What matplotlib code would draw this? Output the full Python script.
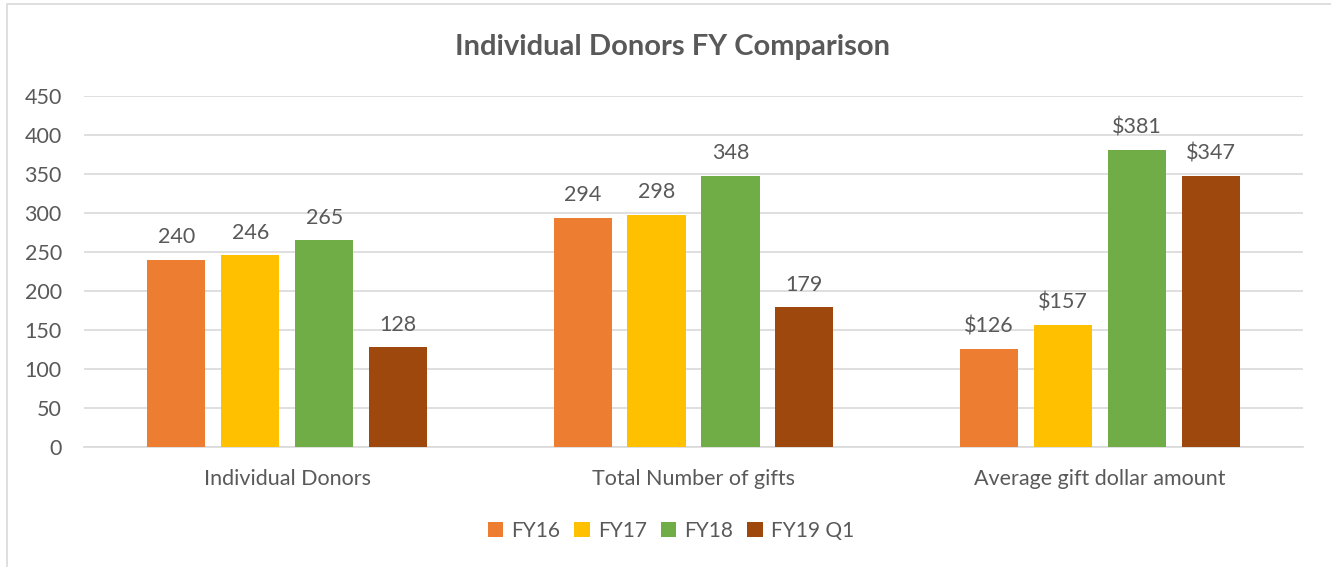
#!/usr/bin/env python3
"""Individual donors FY comparison, grouped bars."""

import matplotlib

matplotlib.use("Agg")
import matplotlib.pyplot as plt
import numpy as np
from matplotlib.patches import Rectangle

CATEGORIES = ["Individual Donors", "Total Number of gifts", "Average gift dollar amount"]
SERIES = ["FY16", "FY17", "FY18", "FY19 Q1"]
FY16 = [240, 294, 126]
FY17 = [246, 298, 157]
FY18 = [265, 348, 381]
FY19_Q1 = [128, 179, 347]
COLORS = ["#ED7D31", "#FFC000", "#70AD47", "#9E480E"]

plt.rcParams["font.family"] = ["Lato", "DejaVu Sans"]
TEXT = "#595959"

fig = plt.figure(figsize=(13.31, 5.67), dpi=100)
ax = fig.add_axes([84 / 1331, 1 - 447 / 567, (1303 - 84) / 1331, (447 - 96) / 567])

fig.patches.append(Rectangle((7 / 1331, -0.01), 1.0, 1 - 4 / 567 + 0.01,
                             transform=fig.transFigure, fill=False,
                             edgecolor="#D9D9D9", linewidth=1.2))

x = np.arange(len(CATEGORIES))
width = 0.143
step = 0.182
all_values = [FY16, FY17, FY18, FY19_Q1]
for i, (name, values, color) in enumerate(zip(SERIES, all_values, COLORS)):
    offset = (i - 1.5) * step
    bars = ax.bar(x + offset, values, width, color=color, label=name, zorder=3)
    for j, (bar, v) in enumerate(zip(bars, values)):
        label = f"${v}" if j == 2 else f"{v}"
        ax.text(bar.get_x() + bar.get_width() / 2, v + 16, label,
                ha="center", va="bottom", fontsize=15.5, color=TEXT)

ax.set_xlim(-0.5, 2.5)
ax.set_ylim(0, 450)
ax.set_yticks(range(0, 451, 50))
ax.yaxis.grid(True, color="#D9D9D9", linewidth=1.2, zorder=0)
ax.set_axisbelow(True)
for spine in ax.spines.values():
    spine.set_visible(False)
ax.spines["bottom"].set_visible(True)
ax.spines["bottom"].set_color("#D9D9D9")
ax.spines["bottom"].set_linewidth(1.2)
ax.tick_params(axis="y", length=0, labelsize=15.5, colors=TEXT, pad=16)
ax.tick_params(axis="x", length=0, labelsize=15.5, colors=TEXT, pad=16)
ax.set_xticks(x)
ax.set_xticklabels(CATEGORIES)

fig.text(0.505, 1 - 47 / 567, "Individual Donors FY Comparison", ha="center", va="center",
         fontsize=21, fontweight="bold", color=TEXT)

fig.legend(loc="center", bbox_to_anchor=(0.504, 1 - 531 / 567), ncol=4, frameon=False,
           fontsize=15, labelcolor=TEXT, handlelength=0.75, handleheight=0.75,
           handletextpad=0.4, columnspacing=0.65)

fig.savefig("out.png", dpi=100)
